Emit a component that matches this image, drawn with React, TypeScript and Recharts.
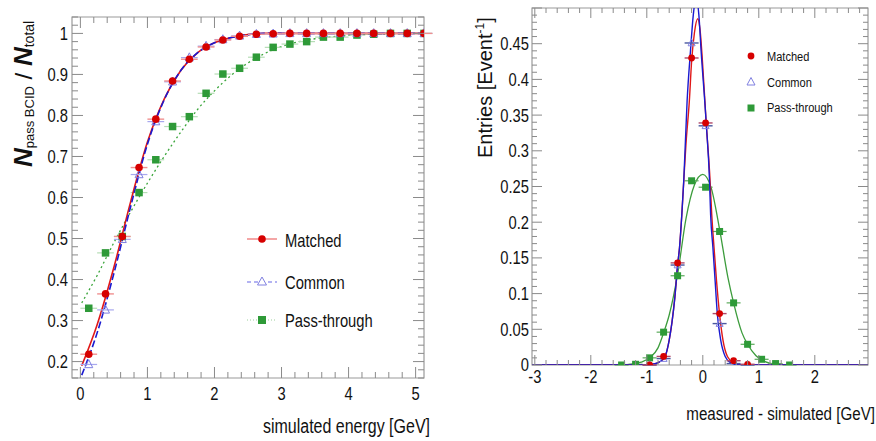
import React from "react";
import { ComposedChart, Line, Scatter, XAxis, YAxis, ErrorBar, ReferenceArea } from "recharts";

// no condensed face is installed, so horizontal text is squeezed with a scale
const FONT = "'Liberation Sans', Arial, sans-serif";
const SQUEEZE = 0.82;
const TICK = "#8a8a8a";
const FRAME = "#9a9a9a";

// ---- left panel: BCID efficiency vs simulated energy
const ENERGY_BINS = [0.125, 0.375, 0.625, 0.875, 1.125, 1.375, 1.625, 1.875, 2.125, 2.375, 2.625, 2.875, 3.125, 3.375, 3.625, 3.875, 4.125, 4.375, 4.625, 4.875, 5.125];
const EFF_MATCHED = [0.218, 0.365, 0.505, 0.673, 0.791, 0.884, 0.937, 0.967, 0.984, 0.993, 0.998, 0.999, 1, 1, 1, 1, 1, 1, 1, 1, 1];
const EFF_COMMON = [0.193, 0.326, 0.498, 0.656, 0.785, 0.882, 0.941, 0.969, 0.985, 0.994, 0.998, 0.999, 1, 1, 1, 1, 1, 1, 1, 1, 1];
const EFF_PASS = [0.33, 0.465, 0.505, 0.612, 0.692, 0.773, 0.797, 0.854, 0.901, 0.915, 0.942, 0.966, 0.974, 0.98, 0.991, 0.991, 0.996, 0.998, 1, 1, 1];
const ENERGY_BIN_HALF = 0.125;

const EFF_FIT_E = [0.02, 0.25, 0.5, 0.75, 1.0, 1.25, 1.5, 1.75, 2.0, 2.25, 2.5, 2.75, 3.0, 5.125];
const EFF_FIT_MATCHED = [0.19, 0.29, 0.43, 0.59, 0.735, 0.84, 0.91, 0.953, 0.977, 0.99, 0.997, 1.0, 1.0, 1.0];
const EFF_FIT_COMMON = [0.167, 0.27, 0.415, 0.578, 0.73, 0.838, 0.91, 0.953, 0.977, 0.99, 0.997, 1.0, 1.0, 1.0];
const EFF_FIT_PASS_E = [0.02, 0.25, 0.5, 0.75, 1.0, 1.25, 1.5, 1.75, 2.0, 2.25, 2.5, 2.75, 3.0, 3.5, 4.0, 4.5, 5.125];
const EFF_FIT_PASS = [0.343, 0.41, 0.49, 0.565, 0.635, 0.7, 0.76, 0.815, 0.86, 0.898, 0.928, 0.951, 0.968, 0.987, 0.995, 0.999, 1.0];

// ---- right panel: resolution (measured - simulated)
const DIFF_BINS_PASS = [-1.45, -1.2, -0.95, -0.7, -0.45, -0.2, 0.05, 0.3, 0.55, 0.8, 1.05, 1.3, 1.55];
const RES_PASS = [0.0, 0.001, 0.01, 0.046, 0.125, 0.258, 0.249, 0.187, 0.087, 0.029, 0.008, 0.002, 0.0];
const DIFF_BINS = [-0.95, -0.7, -0.45, -0.2, 0.05, 0.3, 0.55, 0.8];
const RES_MATCHED = [0.0, 0.012, 0.143, 0.43, 0.339, 0.072, 0.006, 0.001];
const RES_COMMON = [0.0, 0.009, 0.14, 0.451, 0.335, 0.058, 0.002, 0.0];
const DIFF_BIN_HALF = 0.125;

const RES_FIT_PASS_X = [-3.05, -1.6, -1.3, -1.1, -0.95, -0.8, -0.7, -0.6, -0.45, -0.3, -0.15, 0.0, 0.15, 0.3, 0.45, 0.55, 0.7, 0.8, 0.95, 1.1, 1.3, 1.6, 2.95];
const RES_FIT_PASS = [0, 0, 0.001, 0.004, 0.01, 0.024, 0.045, 0.07, 0.127, 0.205, 0.252, 0.267, 0.248, 0.19, 0.122, 0.087, 0.045, 0.029, 0.013, 0.005, 0.001, 0, 0];
const RES_FIT_MATCHED_X = [-3.05, -1.1, -0.9, -0.78, -0.68, -0.6, -0.55, -0.5, -0.45, -0.415, -0.375, -0.34, -0.3, -0.24, -0.2, -0.15, -0.09, -0.05, -0.01, 0.06, 0.13, 0.16, 0.2, 0.245, 0.3, 0.36, 0.44, 0.55, 0.7, 2.95];
const RES_FIT_MATCHED = [0, 0, 0.001, 0.004, 0.011, 0.035, 0.06, 0.094, 0.14, 0.165, 0.21, 0.258, 0.31, 0.37, 0.425, 0.465, 0.485, 0.47, 0.43, 0.34, 0.258, 0.21, 0.165, 0.118, 0.071, 0.035, 0.012, 0.003, 0, 0];
const RES_FIT_COMMON_X = [-3.05, -1.1, -0.9, -0.78, -0.68, -0.6, -0.55, -0.5, -0.45, -0.415, -0.375, -0.34, -0.28, -0.22, -0.17, -0.12, -0.07, -0.03, 0.06, 0.12, 0.14, 0.18, 0.22, 0.26, 0.32, 0.4, 0.5, 0.65, 2.95];
const RES_FIT_COMMON = [0, 0, 0.001, 0.004, 0.011, 0.035, 0.06, 0.094, 0.14, 0.165, 0.21, 0.258, 0.37, 0.44, 0.49, 0.515, 0.49, 0.44, 0.34, 0.258, 0.21, 0.165, 0.118, 0.071, 0.035, 0.012, 0.003, 0, 0];

const pts = (xs: number[], ys: number[], ex: number) => xs.map((x, i) => ({ x, y: ys[i], ex }));
const curve = (xs: number[], ys: number[]) => xs.map((x, i) => ({ x, y: ys[i] }));

function range(a: number, b: number, step: number) {
  const out: number[] = [];
  for (let i = 0; a + i * step <= b + 1e-9; i++) out.push(Math.round((a + i * step) * 1000) / 1000);
  return out;
}
const isMajor = (v: number, step: number) => {
  const r = v / step;
  return Math.abs(r - Math.round(r)) < 1e-6;
};
const fmt = (v: number) => String(Math.round(v * 1000) / 1000);

// narrow-looking text: scaled horizontally around its anchor
function NText({ x, y, size, anchor = "start", dy, children }: any) {
  return (
    <text
      transform={`translate(${x} ${y}) scale(${SQUEEZE} 1)`}
      x={0}
      y={0}
      dy={dy}
      textAnchor={anchor}
      fontFamily={FONT}
      fontSize={size}
      fill="#111"
    >
      {children}
    </text>
  );
}

type Box = { top: number; bottom: number; left: number; right: number };
type TickCfg = { box: Box; major: number; majorLen: number; minorLen: number; gap: number; size: number; hide?: number[] };

const xTick = (c: TickCfg) => (p: any) => {
  const x = p.x;
  const v = p.payload.value;
  const major = isMajor(v, c.major);
  const len = major ? c.majorLen : c.minorLen;
  return (
    <g>
      <line x1={x} x2={x} y1={c.box.bottom} y2={c.box.bottom - len} stroke={TICK} />
      <line x1={x} x2={x} y1={c.box.top} y2={c.box.top + len} stroke={TICK} />
      {major && !(c.hide || []).includes(v) && (
        <NText x={x} y={c.box.bottom + c.gap} size={c.size} anchor="middle">
          {fmt(v)}
        </NText>
      )}
    </g>
  );
};

const yTick = (c: TickCfg) => (p: any) => {
  const y = p.y;
  const v = p.payload.value;
  const major = isMajor(v, c.major);
  const len = major ? c.majorLen : c.minorLen;
  return (
    <g>
      <line x1={c.box.left} x2={c.box.left + len} y1={y} y2={y} stroke={TICK} />
      <line x1={c.box.right} x2={c.box.right - len} y1={y} y2={y} stroke={TICK} />
      {major && !(c.hide || []).includes(v) && (
        <NText x={c.box.left - c.gap} y={y} dy="0.36em" size={c.size} anchor="end">
          {fmt(v)}
        </NText>
      )}
    </g>
  );
};

const circle = (r: number, fill: string) => (p: any) => <circle cx={p.cx} cy={p.cy} r={r} fill={fill} />;
const square = (s: number, fill: string) => (p: any) => (
  <rect x={p.cx - s / 2} y={p.cy - s / 2} width={s} height={s} fill={fill} />
);
const triangle = (s: number, stroke: string) => (p: any) => (
  <polygon
    points={`${p.cx},${p.cy - s * 0.6} ${p.cx - s / 2},${p.cy + s * 0.4} ${p.cx + s / 2},${p.cy + s * 0.4}`}
    fill="none"
    stroke={stroke}
    strokeWidth={1}
  />
);

const RED = "#d60000";
const BLUE = "#1a1ad0";
const GREEN = "#2e9a38";

const LEFT: Box = { top: 17, bottom: 378, left: 72, right: 424 };
const RIGHT: Box = { top: 8, bottom: 365, left: 92, right: 428 };

// axes get 1px so recharts still renders them; margins shrink by the same amount
function EfficiencyPanel() {
  const W = 440;
  const H = 441;
  return (
    <ComposedChart
      width={W}
      height={H}
      margin={{ top: LEFT.top, right: W - LEFT.right, bottom: H - LEFT.bottom - 1, left: LEFT.left - 1 }}
    >
      <XAxis
        dataKey="x"
        type="number"
        domain={[-0.125, 5.125]}
        allowDataOverflow
        ticks={range(0, 5, 0.2)}
        interval={0}
        height={1}
        axisLine={false}
        tickLine={false}
        tickSize={0}
        tick={xTick({ box: LEFT, major: 1, majorLen: 11, minorLen: 6, gap: 22, size: 18 })}
      />
      <YAxis
        dataKey="y"
        type="number"
        domain={[0.16, 1.04]}
        allowDataOverflow
        ticks={range(0.16, 1.04, 0.02)}
        interval={0}
        width={1}
        axisLine={false}
        tickLine={false}
        tickSize={0}
        tick={yTick({ box: LEFT, major: 0.1, majorLen: 11, minorLen: 6, gap: 4, size: 18 })}
      />
      <ReferenceArea x1={-0.125} x2={5.125} y1={0.16} y2={1.04} fill="none" stroke={FRAME} strokeWidth={1.2} />
      <Line data={curve(EFF_FIT_PASS_E, EFF_FIT_PASS)} dataKey="y" type="monotone" stroke="#3aa53a" strokeWidth={1.3} strokeDasharray="2 3" dot={false} isAnimationActive={false} />
      <Scatter data={pts(ENERGY_BINS, EFF_PASS, ENERGY_BIN_HALF)} shape={square(7.5, GREEN)} isAnimationActive={false}>
        <ErrorBar dataKey="ex" direction="x" width={0} stroke="#b5ddb5" strokeWidth={1.2} />
      </Scatter>
      <Line data={curve(EFF_FIT_E, EFF_FIT_MATCHED)} dataKey="y" type="monotone" stroke="#e01818" strokeWidth={1.6} dot={false} isAnimationActive={false} />
      <Line data={curve(EFF_FIT_E, EFF_FIT_COMMON)} dataKey="y" type="monotone" stroke={BLUE} strokeWidth={1.6} strokeDasharray="7 3" dot={false} isAnimationActive={false} />
      <Scatter data={pts(ENERGY_BINS, EFF_COMMON, ENERGY_BIN_HALF)} shape={triangle(8, "#7f7fe0")} isAnimationActive={false}>
        <ErrorBar dataKey="ex" direction="x" width={0} stroke="#a8a8ee" strokeWidth={1.2} />
      </Scatter>
      <Scatter data={pts(ENERGY_BINS, EFF_MATCHED, ENERGY_BIN_HALF)} shape={circle(3.8, RED)} isAnimationActive={false}>
        <ErrorBar dataKey="ex" direction="x" width={0} stroke="#f09090" strokeWidth={1.4} />
      </Scatter>
    </ComposedChart>
  );
}

function ResolutionPanel() {
  const W = 436;
  const H = 441;
  return (
    <ComposedChart
      width={W}
      height={H}
      margin={{ top: RIGHT.top, right: W - RIGHT.right, bottom: H - RIGHT.bottom - 1, left: RIGHT.left - 1 }}
    >
      <XAxis
        dataKey="x"
        type="number"
        domain={[-3.05, 2.95]}
        allowDataOverflow
        ticks={range(-3, 2.8, 0.2)}
        interval={0}
        height={1}
        axisLine={false}
        tickLine={false}
        tickSize={0}
        tick={xTick({ box: RIGHT, major: 1, majorLen: 10, minorLen: 5, gap: 18, size: 18 })}
      />
      <YAxis
        dataKey="y"
        type="number"
        domain={[0, 0.5]}
        allowDataOverflow
        ticks={range(0, 0.5, 0.01)}
        interval={0}
        width={1}
        axisLine={false}
        tickLine={false}
        tickSize={0}
        tick={yTick({ box: RIGHT, major: 0.05, majorLen: 10, minorLen: 5, gap: 3, size: 18, hide: [0.5] })}
      />
      <ReferenceArea x1={-3.05} x2={2.95} y1={0} y2={0.5} fill="none" stroke={FRAME} strokeWidth={1.2} />
      <Line data={curve(RES_FIT_PASS_X, RES_FIT_PASS)} dataKey="y" type="monotone" stroke="#3c9c3c" strokeWidth={1.3} dot={false} isAnimationActive={false} />
      <Scatter data={pts(DIFF_BINS_PASS, RES_PASS, DIFF_BIN_HALF)} shape={square(7, GREEN)} isAnimationActive={false}>
        <ErrorBar dataKey="ex" direction="x" width={0} stroke="#5aaa5a" strokeWidth={1.2} />
      </Scatter>
      <Line data={curve(RES_FIT_MATCHED_X, RES_FIT_MATCHED)} dataKey="y" type="monotone" stroke="#e01818" strokeWidth={1.4} dot={false} isAnimationActive={false} />
      <Line data={curve(RES_FIT_COMMON_X, RES_FIT_COMMON)} dataKey="y" type="monotone" stroke={BLUE} strokeWidth={1.4} dot={false} isAnimationActive={false} />
      <Scatter data={pts(DIFF_BINS, RES_COMMON, DIFF_BIN_HALF)} shape={triangle(7, "#8080e0")} isAnimationActive={false}>
        <ErrorBar dataKey="ex" direction="x" width={0} stroke="#4a58a0" strokeWidth={1.4} />
      </Scatter>
      <Scatter data={pts(DIFF_BINS, RES_MATCHED, DIFF_BIN_HALF)} shape={circle(3.4, RED)} isAnimationActive={false}>
        <ErrorBar dataKey="ex" direction="x" width={0} stroke="#b04868" strokeWidth={1.4} />
      </Scatter>
    </ComposedChart>
  );
}

function Overlay() {
  return (
    <svg width={876} height={441} style={{ position: "absolute", left: 0, top: 0, pointerEvents: "none" }}>
      {/* left y title */}
      <text x={32} y={167} transform="rotate(-90 32 167)" fontFamily={FONT} fill="#111">
        <tspan fontSize={26} fontWeight="bold" fontStyle="italic">N</tspan>
        <tspan fontSize={13} dy={2}>pass BCID</tspan>
        <tspan fontSize={24} dy={-2}> / </tspan>
        <tspan fontSize={26} fontWeight="bold" fontStyle="italic">N</tspan>
        <tspan fontSize={14} dy={2}>total</tspan>
      </text>
      <NText x={430} y={433} size={19.5} anchor="end">simulated energy [GeV]</NText>

      {/* left legend */}
      <line x1={247} x2={277} y1={239} y2={239} stroke="#f08888" strokeWidth={1.5} />
      <circle cx={262} cy={239} r={3.8} fill={RED} />
      <NText x={285} y={247} size={18}>Matched</NText>
      <line x1={247} x2={277} y1={282} y2={282} stroke="#9a9aee" strokeWidth={1.3} strokeDasharray="4 3" />
      <polygon points="262,277 257.5,285 266.5,285" fill="#fff" stroke="#8080e0" />
      <NText x={285} y={289} size={18}>Common</NText>
      <line x1={247} x2={277} y1={320} y2={320} stroke="#9ccf9c" strokeWidth={1.2} strokeDasharray="1 2" />
      <rect x={258} y={316} width={8} height={8} fill={GREEN} />
      <NText x={285} y={327} size={18}>Pass-through</NText>

      {/* right y title */}
      <text x={492} y={158} transform="rotate(-90 492 158)" fontFamily={FONT} fontSize={20} fill="#111">
        Entries [Event<tspan fontSize={12} dy={-8}>-1</tspan><tspan dy={8}>]</tspan>
      </text>
      <NText x={875} y={420} size={18.5} anchor="end">measured - simulated [GeV]</NText>

      {/* right legend */}
      <circle cx={751} cy={56} r={3.4} fill={RED} />
      <NText x={767} y={61} size={13.5}>Matched</NText>
      <polygon points="751,77.5 747,85 755,85" fill="none" stroke="#8080e0" />
      <NText x={767} y={87} size={13.5}>Common</NText>
      <rect x={747.5} y={104.5} width={7} height={7} fill={GREEN} />
      <NText x={767} y={112} size={13.5}>Pass-through</NText>
    </svg>
  );
}

export default function App() {
  return (
    <div style={{ position: "absolute", left: 0, top: 0, width: 876, height: 441, background: "#fff", overflow: "hidden" }}>
      <div style={{ position: "absolute", left: 0, top: 0 }}>
        <EfficiencyPanel />
      </div>
      <div style={{ position: "absolute", left: 440, top: 0 }}>
        <ResolutionPanel />
      </div>
      <Overlay />
    </div>
  );
}
